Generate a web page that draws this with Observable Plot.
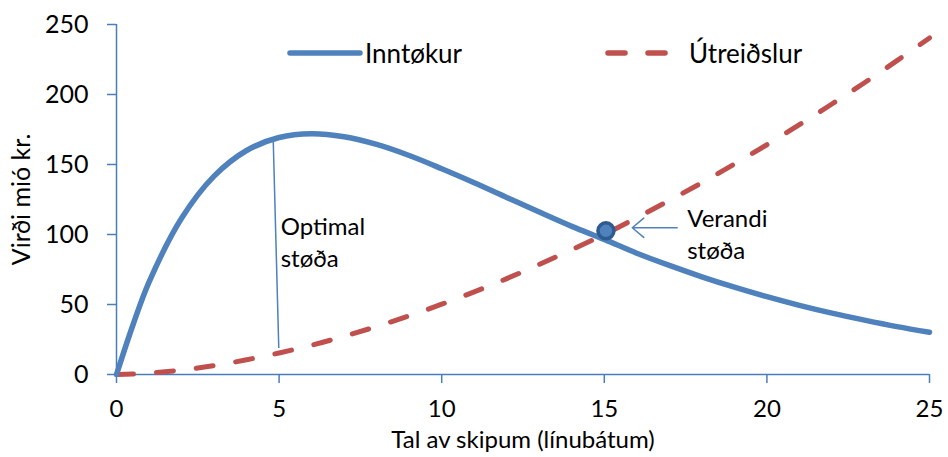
<!DOCTYPE html>
<html>
<head>
<meta charset="utf-8">
<script src="https://cdn.jsdelivr.net/npm/d3@7"></script>
<script src="https://cdn.jsdelivr.net/npm/@observablehq/plot@0.6"></script>
<style>
  html, body { margin: 0; padding: 0; background: #fff; }
  #wrap { position: relative; width: 948px; height: 457px; font-family: Lato, "Open Sans", sans-serif; }
  .leg { position: absolute; top: 36px; height: 34px; display: flex; align-items: center; font-size: 26px; color: #000; }
  .leg svg { display: block; }
</style>
</head>
<body>
<div id="wrap"></div>
<script>
// Data
const ships = [0, 0.5, 1, 2, 3, 4, 5, 6, 7, 8, 9, 10, 11, 12, 13, 14, 15, 16, 17, 18, 19, 20, 21, 22, 23, 24, 25];
const revenue = [0, 35, 66, 111.6, 141.7, 160, 169.3, 172, 169.8, 164.3, 156.4, 147, 137, 126.5, 116, 105.8, 96.5, 86.6, 77.9, 69.8, 62.4, 55.6, 49.4, 43.8, 38.8, 34.2, 30.2];
const costs = [0, 0.3, 1, 3.2, 6.4, 10.5, 15.4, 20.9, 27.3, 34.3, 41.9, 50.2, 59, 68.5, 78.6, 89.2, 100, 112, 124.3, 137, 150.3, 164.1, 178.4, 193.2, 208.4, 224.2, 240.4];
const xTicks = [0, 5, 10, 15, 20, 25];
const yTicks = [0, 50, 100, 150, 200, 250];
const seriesNames = ["Inntøkur", "Útreiðslur"];
const xLabel = "Tal av skipum (línubátum)";
const yLabel = "Virði mió kr.";
const optimalText = "Optimal\nstøða";
const currentText = "Verandi\nstøða";
const optimalLine = [{x1: 4.82, y1: 167, x2: 4.99, y2: 19}];
const currentPoint = [{x: 15.05, y: 102.6}];
const currentArrow = [{x1: 17.24, y1: 104.8, x2: 15.86, y2: 104.8}];

const blue = "#4F81BD";
const red = "#C0504D";
const axisBlue = "#4A7EBB";

const rows = ships.map((x, i) => ({x, revenue: revenue[i], cost: costs[i]}));

const chart = Plot.plot({
  width: 948,
  height: 457,
  marginLeft: 116,
  marginRight: 19,
  marginTop: 24,
  marginBottom: 83,
  style: {fontFamily: "Lato, 'Open Sans', sans-serif", fontSize: "24px", color: "#000", background: "#fff"},
  x: {domain: [0, 25]},
  y: {domain: [0, 250]},
  marks: [
    Plot.axisY({ticks: yTicks, tickSize: 9, tickPadding: 19, stroke: axisBlue, strokeWidth: 1.5, fill: "#000", fontSize: 25, label: null}),
    Plot.axisX({ticks: xTicks, tickSize: 9, tickPadding: 16, stroke: axisBlue, strokeWidth: 1.5, fill: "#000", fontSize: 24, label: null}),
    Plot.ruleX([0], {stroke: axisBlue, strokeWidth: 1.5}),
    Plot.ruleY([0], {stroke: axisBlue, strokeWidth: 1.5}),
    Plot.link(optimalLine, {x1: "x1", y1: "y1", x2: "x2", y2: "y2", stroke: blue, strokeWidth: 1.5}),
    Plot.line(rows, {x: "x", y: "cost", curve: "catmull-rom", stroke: red, strokeWidth: 5, strokeDasharray: "17,23", strokeLinecap: "round"}),
    Plot.line(rows, {x: "x", y: "revenue", curve: "catmull-rom", stroke: blue, strokeWidth: 5.5}),
    Plot.dot(currentPoint, {x: "x", y: "y", r: 8, fill: blue, stroke: "#2E5C8F", strokeWidth: 3.5}),
    Plot.arrow(currentArrow, {x1: "x1", y1: "y1", x2: "x2", y2: "y2", stroke: blue, strokeWidth: 1.5, headLength: 16, headAngle: 80}),
    Plot.text([optimalText], {x: 5.05, y: 95.5, text: d => d, textAnchor: "start", lineAnchor: "middle", fontSize: 24, lineHeight: 1.33, fill: "#000"}),
    Plot.text([currentText], {x: 17.55, y: 101, text: d => d, textAnchor: "start", lineAnchor: "middle", fontSize: 24, lineHeight: 1.33, fill: "#000"}),
    Plot.text([yLabel], {frameAnchor: "left", dx: -95, rotate: -90, textAnchor: "middle", lineAnchor: "middle", text: d => d, fontSize: 25, fill: "#000"}),
    Plot.text([xLabel], {frameAnchor: "bottom", dy: 66, textAnchor: "middle", lineAnchor: "middle", text: d => d, fontSize: 24, fill: "#000"})
  ]
});

const wrap = document.getElementById("wrap");
wrap.appendChild(chart);

function legendItem(left, name, dashed, color) {
  const d = document.createElement("div");
  d.className = "leg";
  d.style.left = left + "px";
  const svg = d3.create("svg").attr("width", 76).attr("height", 34);
  svg.append("line").attr("x1", 3).attr("x2", dashed ? 63 : 73).attr("y1", 17).attr("y2", 17)
    .attr("stroke", color).attr("stroke-width", 5.5).attr("stroke-linecap", "round")
    .attr("stroke-dasharray", dashed ? "17,23" : null);
  d.appendChild(svg.node());
  const t = document.createElement("span");
  t.textContent = name;
  t.style.marginLeft = dashed ? "8px" : "2px";
  d.appendChild(t);
  wrap.appendChild(d);
}
legendItem(287, seriesNames[0], false, blue);
legendItem(605, seriesNames[1], true, red);
</script>
</body>
</html>
